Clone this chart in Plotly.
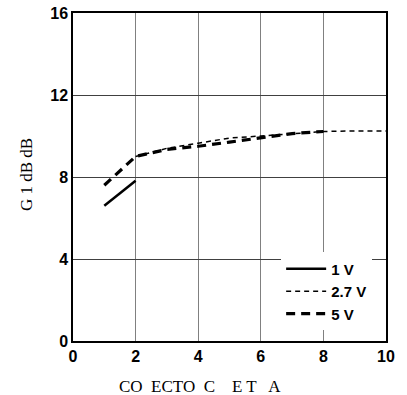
import plotly.graph_objects as go

x_1v = [1, 2]
y_1v = [6.6, 7.82]

x_27v = [2, 3, 4, 5, 6, 7, 8, 9, 10]
y_27v = [9.0, 9.4, 9.65, 9.9, 10.0, 10.12, 10.22, 10.25, 10.25]

x_5v = [1, 2, 3, 4, 5, 6, 7, 8]
y_5v = [7.6, 9.0, 9.35, 9.5, 9.7, 9.92, 10.12, 10.22]

names = ["1 V", "2.7 V", "5 V"]

fig = go.Figure()
fig.add_trace(go.Scatter(x=x_1v, y=y_1v, mode="lines", name=names[0],
                         line=dict(color="black", width=2.5)))
fig.add_trace(go.Scatter(x=x_27v, y=y_27v, mode="lines", name=names[1],
                         line=dict(color="black", width=1.5, dash="5px,4px")))
fig.add_trace(go.Scatter(x=x_5v, y=y_5v, mode="lines", name=names[2],
                         line=dict(color="black", width=3.2, dash="9px,6px")))

tickfont = dict(family="Liberation Sans", size=16, color="black", weight="bold")
fig.update_layout(
    width=407, height=395,
    margin=dict(l=73, r=21, t=13, b=54),
    paper_bgcolor="white", plot_bgcolor="white",
    showlegend=True,
    legend=dict(x=0.665, y=0.27, xanchor="left", yanchor="top",
                bgcolor="white", borderwidth=0,
                font=dict(family="Liberation Sans", size=15, color="black", weight="bold"),
                tracegroupgap=0, itemwidth=40),
    xaxis=dict(range=[0, 10], tickvals=[0, 2, 4, 6, 8, 10], showgrid=True,
               gridcolor="#808080", gridwidth=1, showline=True, linecolor="black",
               linewidth=1.5, mirror=True, zeroline=False, tickfont=tickfont,
               ticks="", ticklen=0, automargin=False),
    yaxis=dict(range=[0, 16], tickvals=[0, 4, 8, 12, 16], showgrid=True,
               gridcolor="#404040", gridwidth=1, showline=True, linecolor="black",
               linewidth=1.5, mirror=True, zeroline=False, tickfont=tickfont,
               ticks="", ticklen=0, automargin=False),
    annotations=[
        dict(text="CO  ECTO  C    E T   A", x=(200 - 73) / 313, y=(341 - 387) / 328,
             xref="paper", yref="paper",
             showarrow=False, xanchor="center", yanchor="middle",
             font=dict(family="Liberation Serif", size=17, color="black")),
        dict(text="G 1 dB dB", x=(26 - 73) / 313, y=(341 - 175) / 328,
             xref="paper", yref="paper",
             showarrow=False, textangle=-90, xanchor="center", yanchor="middle",
             font=dict(family="Liberation Serif", size=17, color="black")),
    ],
)

fig.write_html("out.html")
